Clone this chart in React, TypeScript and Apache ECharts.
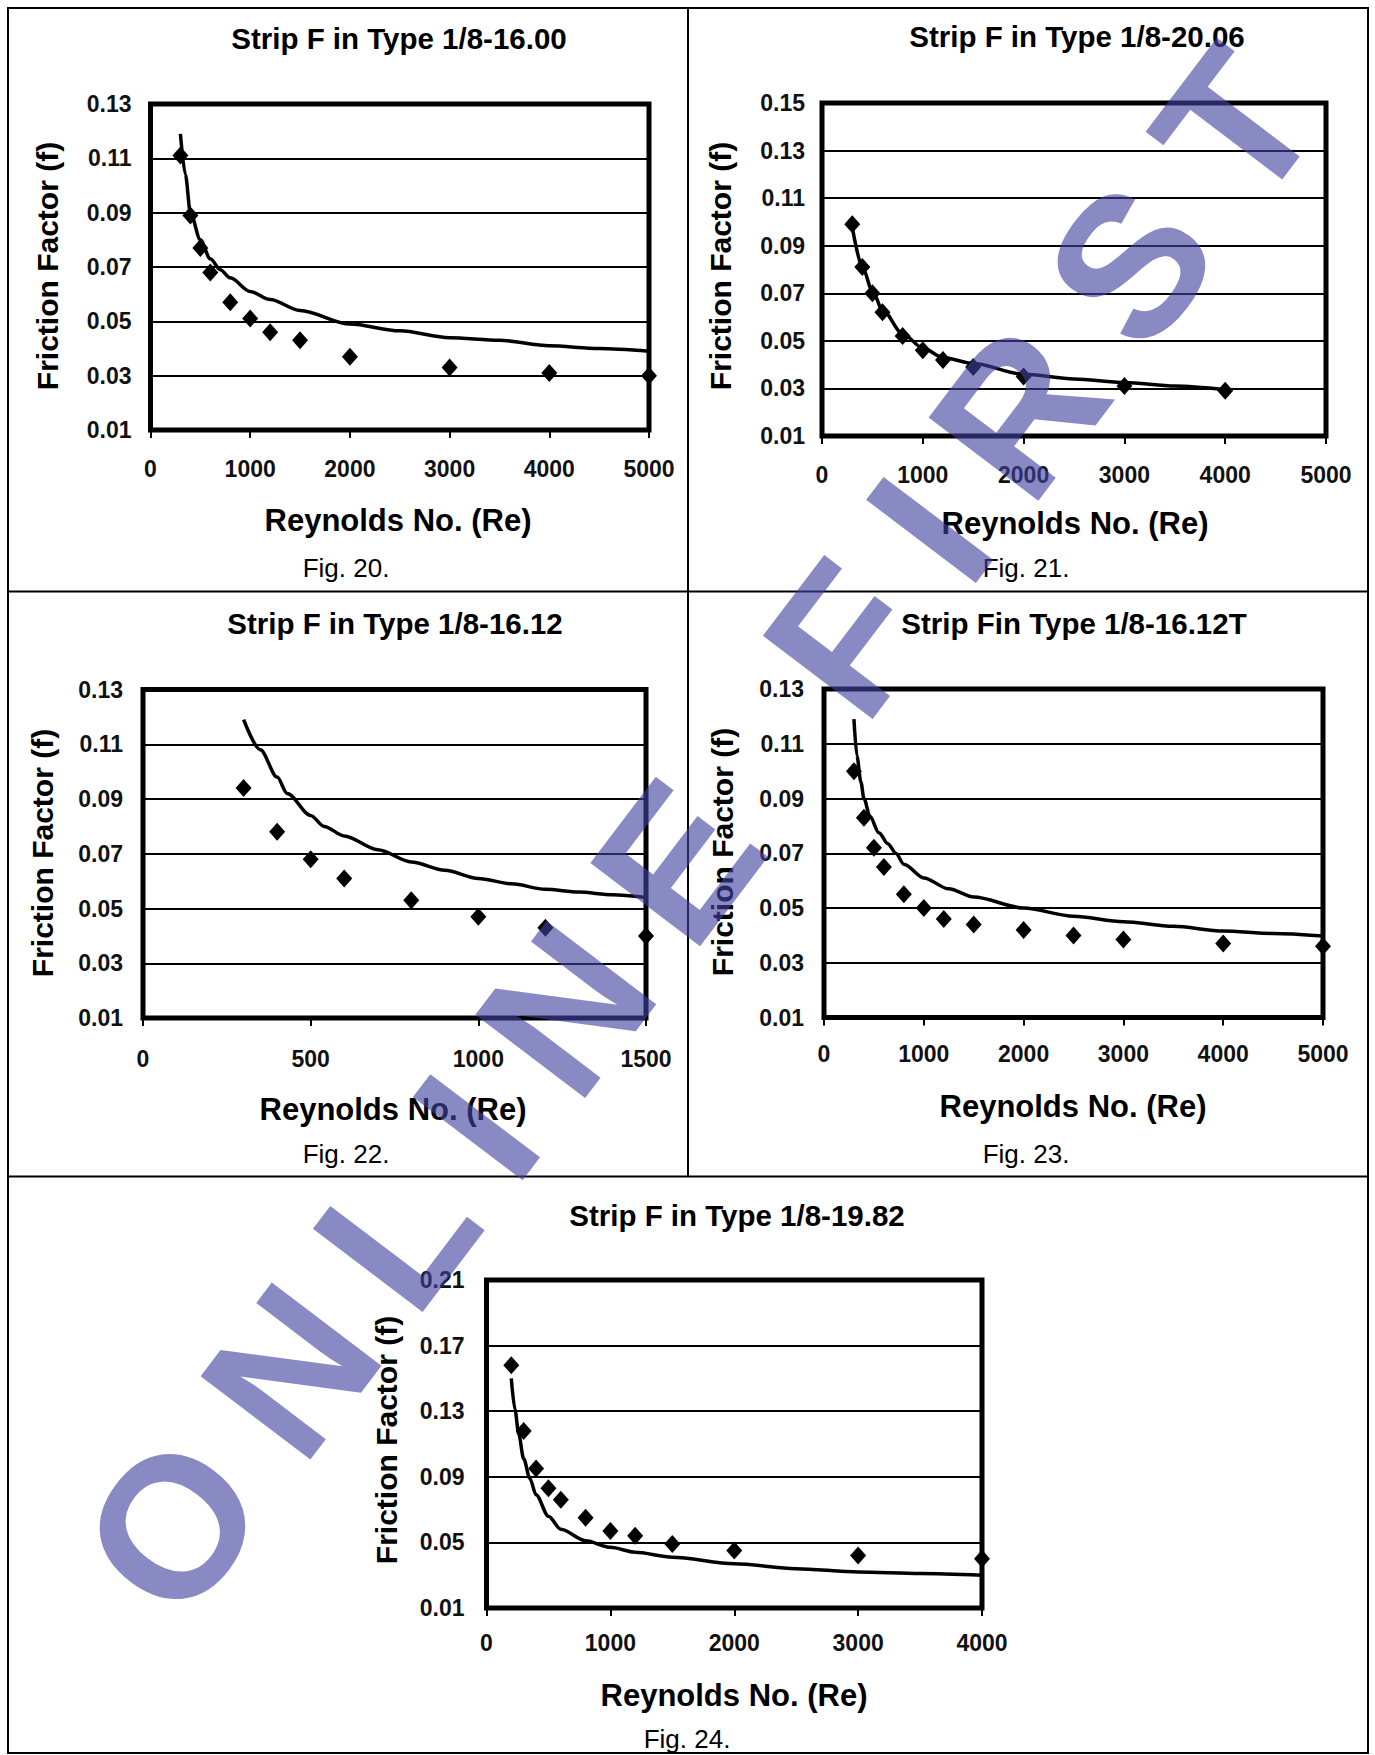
import React, { useEffect, useRef } from 'react';
import * as echarts from 'echarts';

// ---------- Fig. 20 : Strip F in Type 1/8-16.00 ----------
const re20 = [300, 400, 500, 600, 800, 1000, 1200, 1500, 2000, 3000, 4000, 5000];
const f20 = [0.111, 0.089, 0.077, 0.068, 0.057, 0.051, 0.046, 0.043, 0.037, 0.033, 0.031, 0.030];
const fitRe20 = [300, 350, 400, 500, 600, 700, 800, 1000, 1200, 1500, 2000, 2500, 3000, 3500, 4000, 4500, 5000];
const fit20 = [0.119, 0.104, 0.090, 0.080, 0.073, 0.069, 0.066, 0.061, 0.058, 0.054, 0.049, 0.0465, 0.044, 0.043, 0.041, 0.040, 0.039];

// ---------- Fig. 21 : Strip F in Type 1/8-20.06 ----------
const re21 = [300, 400, 500, 600, 800, 1000, 1200, 1500, 2000, 3000, 4000];
const f21 = [0.099, 0.081, 0.070, 0.062, 0.052, 0.046, 0.042, 0.039, 0.035, 0.031, 0.029];
const fitRe21 = [300, 400, 500, 600, 800, 1000, 1200, 1500, 2000, 2500, 3000, 3500, 4000];
const fit21 = [0.098, 0.081, 0.071, 0.063, 0.053, 0.047, 0.043, 0.0405, 0.036, 0.034, 0.0325, 0.031, 0.0295];

// ---------- Fig. 22 : Strip F in Type 1/8-16.12 ----------
const re22 = [300, 400, 500, 600, 800, 1000, 1200, 1500];
const f22 = [0.094, 0.078, 0.068, 0.061, 0.053, 0.047, 0.043, 0.040];
const fitRe22 = [300, 350, 400, 430, 500, 540, 600, 700, 800, 900, 1000, 1100, 1200, 1300, 1400, 1500];
const fit22 = [0.119, 0.108, 0.098, 0.092, 0.084, 0.080, 0.0765, 0.0715, 0.067, 0.064, 0.061, 0.059, 0.057, 0.056, 0.055, 0.054];

// ---------- Fig. 23 : Strip Fin Type 1/8-16.12T ----------
const re23 = [300, 400, 500, 600, 800, 1000, 1200, 1500, 2000, 2500, 3000, 4000, 5000];
const f23 = [0.100, 0.083, 0.072, 0.065, 0.055, 0.050, 0.046, 0.044, 0.042, 0.040, 0.0385, 0.037, 0.036];
const fitRe23 = [300, 330, 370, 400, 460, 550, 640, 720, 800, 1000, 1250, 1500, 2000, 2500, 3000, 3500, 4000, 4500, 5000];
const fit23 = [0.119, 0.1055, 0.096, 0.090, 0.0835, 0.0775, 0.0735, 0.070, 0.066, 0.061, 0.057, 0.054, 0.050, 0.047, 0.045, 0.0433, 0.0416, 0.0407, 0.0398];

// ---------- Fig. 24 : Strip F in Type 1/8-19.82 ----------
const re24 = [200, 300, 400, 500, 600, 800, 1000, 1200, 1500, 2000, 3000, 4000];
const f24 = [0.158, 0.118, 0.095, 0.083, 0.076, 0.065, 0.057, 0.054, 0.049, 0.045, 0.042, 0.040];
const fitRe24 = [200, 230, 260, 300, 350, 400, 500, 600, 800, 1000, 1200, 1500, 2000, 2500, 3000, 3500, 4000];
const fit24 = [0.150, 0.131, 0.116, 0.101, 0.089, 0.079, 0.066, 0.058, 0.051, 0.047, 0.044, 0.041, 0.037, 0.034, 0.032, 0.031, 0.030];

const titles = [
  'Strip F in Type 1/8-16.00',
  'Strip F in Type 1/8-20.06',
  'Strip F in Type 1/8-16.12',
  'Strip Fin Type 1/8-16.12T',
  'Strip F in Type 1/8-19.82',
];
const captions = ['Fig. 20.', 'Fig. 21.', 'Fig. 22.', 'Fig. 23.', 'Fig. 24.'];
const xAxisTitle = 'Reynolds No. (Re)';
const yAxisTitle = 'Friction Factor (f)';
const watermark = ['O', 'N', 'L', 'I', 'N', 'E', ' ', 'F', 'I', 'R', 'S', 'T'];

const FONT = '"Liberation Sans", Arial, Helvetica, sans-serif';

// layout (pixels)
const panels = [
  { re: re20, f: f20, fitRe: fitRe20, fit: fit20, xMax: 5000, xInt: 1000, yMin: 0.01, yMax: 0.13, yInt: 0.02,
    grid: [150.5, 104, 498.5, 326], titleXY: [399, 38], xtXY: [398, 520], ytXY: [47, 266], capXY: [346, 568], ym: 19, xm: 27 },
  { re: re21, f: f21, fitRe: fitRe21, fit: fit21, xMax: 5000, xInt: 1000, yMin: 0.01, yMax: 0.15, yInt: 0.02,
    grid: [822, 103, 504, 333], titleXY: [1077, 36], xtXY: [1075, 523], ytXY: [720, 266], capXY: [1026, 568], ym: 17, xm: 27 },
  { re: re22, f: f22, fitRe: fitRe22, fit: fit22, xMax: 1500, xInt: 500, yMin: 0.01, yMax: 0.13, yInt: 0.02,
    grid: [143, 689.5, 503, 328.5], titleXY: [395, 623], xtXY: [393, 1109], ytXY: [42, 853], capXY: [346, 1154], ym: 20, xm: 29 },
  { re: re23, f: f23, fitRe: fitRe23, fit: fit23, xMax: 5000, xInt: 1000, yMin: 0.01, yMax: 0.13, yInt: 0.02,
    grid: [824, 689, 499, 328.5], titleXY: [1074, 623], xtXY: [1073, 1106], ytXY: [722, 852], capXY: [1026, 1154], ym: 20, xm: 25 },
  { re: re24, f: f24, fitRe: fitRe24, fit: fit24, xMax: 4000, xInt: 1000, yMin: 0.01, yMax: 0.21, yInt: 0.04,
    grid: [486.5, 1280, 495.5, 328], titleXY: [737, 1215], xtXY: [734, 1695], ytXY: [386, 1440], capXY: [687, 1739], ym: 22, xm: 23 },
];

function textEl(text: string, x: number, y: number, size: number, weight: string, rotation = 0) {
  return {
    type: 'text',
    x,
    y,
    rotation,
    z: 50,
    style: {
      text,
      fontSize: size,
      fontWeight: weight,
      fontFamily: FONT,
      fill: '#000',
      align: 'center',
      verticalAlign: 'middle',
    },
  };
}

// Arial advance widths (em) for the watermark letters
const wmWidth: Record<string, number> = { O: 0.778, N: 0.722, L: 0.556, I: 0.278, E: 0.667, ' ': 0.278, F: 0.611, R: 0.722, S: 0.667, T: 0.611 };

function watermarkEls() {
  const size = 200;
  const gap = 0.278;
  const ang = (52.8 * Math.PI) / 180;
  const ux = Math.cos(ang);
  const uy = -Math.sin(ang);
  const centers: number[] = [];
  let acc = 0;
  watermark.forEach((ch) => {
    const w = wmWidth[ch];
    centers.push(acc + w / 2);
    acc += w + gap;
  });
  const anchorIdx = 2; // letter L
  const ax = 396;
  const ay = 1232;
  const els: any[] = [];
  watermark.forEach((ch, i) => {
    if (ch === ' ') return;
    const d = (centers[i] - centers[anchorIdx]) * size * 0.95;
    els.push({
      type: 'text',
      x: ax + ux * d,
      y: ay + uy * d,
      rotation: ang,
      z: 100,
      silent: true,
      style: {
        text: ch,
        fontSize: size,
        fontWeight: 'bold',
        fontFamily: FONT,
        fill: 'rgba(64,64,160,0.62)',
        align: 'center',
        verticalAlign: 'middle',
      },
    });
  });
  return els;
}

function buildOption() {
  const grid = panels.map((p) => ({
    left: p.grid[0],
    top: p.grid[1],
    width: p.grid[2],
    height: p.grid[3],
    show: true,
    borderColor: '#000',
    borderWidth: 5,
    backgroundColor: 'rgba(0,0,0,0)',
    containLabel: false,
    outerBoundsMode: 'none',
  }));
  const labelStyle = { fontSize: 23, fontWeight: 'bold', fontFamily: FONT, color: '#111' };
  const xAxis = panels.map((p, i) => ({
    type: 'value',
    gridIndex: i,
    min: 0,
    max: p.xMax,
    interval: p.xInt,
    axisLine: { show: false },
    axisTick: { show: true, length: 8, lineStyle: { color: '#000', width: 2 } },
    splitLine: { show: false },
    axisLabel: { ...labelStyle, margin: p.xm, showMinLabel: true, showMaxLabel: true, formatter: (v: number) => String(Math.round(v)) },
  }));
  const yAxis = panels.map((p, i) => ({
    type: 'value',
    gridIndex: i,
    min: p.yMin,
    max: p.yMax,
    interval: p.yInt,
    axisLine: { show: false },
    axisTick: { show: false },
    splitLine: { show: true, lineStyle: { color: '#000', width: 2 } },
    axisLabel: { ...labelStyle, margin: p.ym, showMinLabel: true, showMaxLabel: true, formatter: (v: number) => v.toFixed(2) },
  }));
  const series: any[] = [];
  panels.forEach((p, i) => {
    series.push({
      type: 'line',
      xAxisIndex: i,
      yAxisIndex: i,
      data: p.fitRe.map((r, j) => [r, p.fit[j]]),
      showSymbol: false,
      symbol: 'none',
      smooth: 0.3,
      smoothMonotone: 'x',
      lineStyle: { color: '#000', width: 3.5 },
      z: 3,
      silent: true,
    });
    series.push({
      type: 'scatter',
      xAxisIndex: i,
      yAxisIndex: i,
      data: p.re.map((r, j) => [r, p.f[j]]),
      symbol: 'diamond',
      symbolSize: [16, 18],
      itemStyle: { color: '#000', opacity: 1 },
      z: 4,
      silent: true,
    });
  });

  const elements: any[] = [
    { type: 'rect', z: 40, shape: { x: 8, y: 8, width: 1360, height: 1745 }, style: { fill: 'none', stroke: '#000', lineWidth: 2 } },
    { type: 'line', z: 40, shape: { x1: 688, y1: 8, x2: 688, y2: 1176.5 }, style: { stroke: '#000', lineWidth: 2 } },
    { type: 'line', z: 40, shape: { x1: 8, y1: 591.5, x2: 1368, y2: 591.5 }, style: { stroke: '#000', lineWidth: 2 } },
    { type: 'line', z: 40, shape: { x1: 8, y1: 1176.5, x2: 1368, y2: 1176.5 }, style: { stroke: '#000', lineWidth: 2 } },
  ];
  panels.forEach((p, i) => {
    elements.push(textEl(titles[i], p.titleXY[0], p.titleXY[1], 29.5, 'bold'));
    elements.push(textEl(xAxisTitle, p.xtXY[0], p.xtXY[1], 31, 'bold'));
    elements.push(textEl(yAxisTitle, p.ytXY[0], p.ytXY[1], 30, 'bold', Math.PI / 2));
    elements.push(textEl(captions[i], p.capXY[0], p.capXY[1], 26, 'normal'));
  });
  elements.push(...watermarkEls());

  return {
    animation: false,
    backgroundColor: '#ffffff',
    grid,
    xAxis,
    yAxis,
    series,
    graphic: { elements },
  };
}

export default function App() {
  const ref = useRef<HTMLDivElement>(null);
  useEffect(() => {
    if (!ref.current) return;
    const chart = echarts.init(ref.current, undefined, { renderer: 'svg', width: 1375, height: 1755 });
    chart.setOption(buildOption() as any);
    return () => chart.dispose();
  }, []);
  return (
    <div
      ref={ref}
      style={{ position: 'absolute', left: 0, top: 0, width: 1375, height: 1755, background: '#fff' }}
    />
  );
}
